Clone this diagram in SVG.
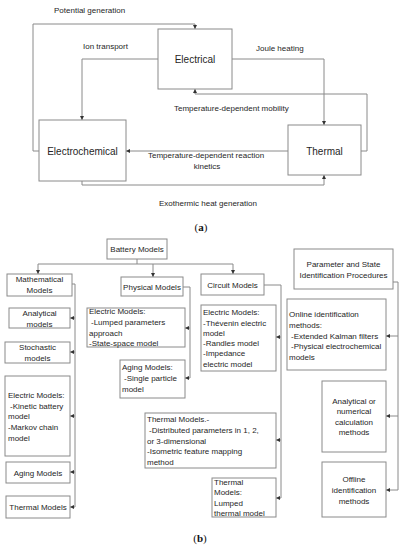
<svg xmlns="http://www.w3.org/2000/svg" width="403" height="550" viewBox="0 0 403 550">
<defs>
<style>
.box{fill:#fff;stroke:#8a8a8a;stroke-width:1}
.ln{fill:none;stroke:#8a8a8a;stroke-width:1}
text{font-family:"Liberation Sans",Arial,sans-serif;fill:#262626}
.big{font-size:10px;text-anchor:middle}
.lb{font-size:8px}
.s{font-size:8px}
.c{text-anchor:middle}
.cap{font-family:"Liberation Serif","Times New Roman",serif;font-size:11px;text-anchor:middle;fill:#111}
</style>
<marker id="ar" viewBox="0 0 6 6" refX="6" refY="3" markerWidth="4" markerHeight="4" orient="auto" markerUnits="userSpaceOnUse">
<path d="M0,0 L6,3 L0,6 z" fill="#333"/>
</marker>
</defs>
<rect width="403" height="550" fill="#fff"/>

<g id="connectors">
<path class="ln" d="M39,151 H33 V24 H195 V29" marker-end="url(#ar)"/>
<path class="ln" d="M158,59 H82 V120" marker-end="url(#ar)"/>
<path class="ln" d="M232,59 H324 V125" marker-end="url(#ar)"/>
<path class="ln" d="M361,151 H367 V94 H195 V89" marker-end="url(#ar)"/>
<path class="ln" d="M288,151 H126" marker-end="url(#ar)"/>
<path class="ln" d="M82,181 V185 H324 V175" marker-end="url(#ar)"/>

<path class="ln" d="M137,259 V264 M38,264 H233"/>
<path class="ln" d="M38,264 V274" marker-end="url(#ar)"/>
<path class="ln" d="M153,264 V277" marker-end="url(#ar)"/>
<path class="ln" d="M233,264 V274" marker-end="url(#ar)"/>

<path class="ln" d="M72,284 H75 V507"/>
<path class="ln" d="M75,318 H70" marker-end="url(#ar)"/>
<path class="ln" d="M75,352 H70" marker-end="url(#ar)"/>
<path class="ln" d="M75,416 H70" marker-end="url(#ar)"/>
<path class="ln" d="M75,472 H70" marker-end="url(#ar)"/>
<path class="ln" d="M75,507 H70" marker-end="url(#ar)"/>

<path class="ln" d="M183,287 H190 V378"/>
<path class="ln" d="M190,328 H185" marker-end="url(#ar)"/>
<path class="ln" d="M190,378 H185" marker-end="url(#ar)"/>

<path class="ln" d="M264,285 H281 V498"/>
<path class="ln" d="M281,337 H276" marker-end="url(#ar)"/>
<path class="ln" d="M281,440 H276" marker-end="url(#ar)"/>
<path class="ln" d="M281,498 H276" marker-end="url(#ar)"/>

<path class="ln" d="M393,282 H398 V490"/>
<path class="ln" d="M398,336 H386" marker-end="url(#ar)"/>
<path class="ln" d="M398,416 H386" marker-end="url(#ar)"/>
<path class="ln" d="M398,490 H386" marker-end="url(#ar)"/>
</g>

<g id="edge-labels">
<text class="lb" x="54" y="13">Potential generation</text>
<text class="lb" x="83" y="49">Ion transport</text>
<text class="lb" x="256" y="51">Joule heating</text>
<text class="lb" x="174" y="111">Temperature-dependent mobility</text>
<text class="lb" x="148" y="158">Temperature-dependent  reaction</text>
<text class="lb c" x="207" y="169">kinetics</text>
<text class="lb" x="159" y="206">Exothermic heat generation</text>
</g>

<g id="electrical"><rect class="box" x="158" y="29" width="74" height="60"/><text class="big" x="195" y="63">Electrical</text></g>
<g id="electrochemical"><rect class="box" x="39" y="120" width="87" height="61"/><text class="big" x="82.5" y="155">Electrochemical</text></g>
<g id="thermal"><rect class="box" x="288" y="125" width="73" height="50"/><text class="big" x="324.5" y="155">Thermal</text></g>

<text class="cap" x="201" y="231">(<tspan font-weight="bold">a</tspan>)</text>

<g id="battery-models"><rect class="box" x="107" y="239" width="60" height="20"/><text class="s c" x="137" y="252">Battery Models</text></g>
<g id="mathematical-models"><rect class="box" x="7" y="274" width="65" height="22"/><text class="s c" x="39.5" y="282">Mathematical</text><text class="s c" x="39.5" y="293">Models</text></g>
<g id="physical-models"><rect class="box" x="121" y="277" width="62" height="19"/><text class="s c" x="152" y="289.5">Physical Models</text></g>
<g id="circuit-models"><rect class="box" x="201" y="274" width="63" height="21"/><text class="s c" x="232.5" y="288">Circuit Models</text></g>

<g id="analytical-models"><rect class="box" x="9" y="308" width="61" height="20"/><text class="s c" x="39.5" y="316">Analytical</text><text class="s c" x="39.5" y="327">models</text></g>
<g id="stochastic-models"><rect class="box" x="5" y="342" width="65" height="21"/><text class="s c" x="37.5" y="350">Stochastic</text><text class="s c" x="37.5" y="361">models</text></g>
<g id="math-electric-models"><rect class="box" x="5" y="376" width="65" height="80"/>
<text class="s" x="8" y="398">Electric Models:</text><text class="s" x="10" y="409">-Kinetic battery</text><text class="s" x="8" y="419">model</text><text class="s" x="8" y="430">-Markov chain</text><text class="s" x="8" y="441">model</text></g>
<g id="math-aging-models"><rect class="box" x="6" y="462" width="64" height="21"/><text class="s c" x="38" y="476">Aging Models</text></g>
<g id="math-thermal-models"><rect class="box" x="6" y="496" width="64" height="22"/><text class="s c" x="38" y="510">Thermal Models</text></g>

<g id="phys-electric-models"><rect class="box" x="87" y="308" width="98" height="39"/>
<text class="s" x="89" y="314">Electric Models:</text><text class="s" x="91" y="325">-Lumped parameters</text><text class="s" x="89" y="336">approach</text><text class="s" x="89" y="346">-State-space model</text></g>
<g id="phys-aging-models"><rect class="box" x="120" y="360" width="65" height="38"/>
<text class="s" x="122" y="370">Aging Models:</text><text class="s" x="124" y="381">-Single particle</text><text class="s" x="122" y="392">model</text></g>

<g id="circuit-electric-models"><rect class="box" x="201" y="305" width="75" height="66"/>
<text class="s" x="203" y="315">Electric Models:</text><text class="s" x="203" y="326">-Thévenin electric</text><text class="s" x="203" y="336">model</text><text class="s" x="203" y="346">-Randles model</text><text class="s" x="203" y="356">-Impedance</text><text class="s" x="203" y="367">electric model</text></g>
<g id="circuit-thermal-models"><rect class="box" x="145" y="413" width="131" height="55"/>
<text class="s" x="147" y="422">Thermal Models.-</text><text class="s" x="149" y="433">-Distributed parameters in 1, 2,</text><text class="s" x="147" y="444">or 3-dimensional</text><text class="s" x="147" y="454">-Isometric feature mapping</text><text class="s" x="147" y="465">method</text></g>
<g id="circuit-lumped-thermal"><rect class="box" x="212" y="478" width="64" height="39"/>
<text class="s" x="214" y="485">Thermal</text><text class="s" x="214" y="495">Models:</text><text class="s" x="214" y="506">Lumped</text><text class="s" x="214" y="516">thermal model</text></g>

<g id="parameter-state"><rect class="box" x="294" y="249" width="99" height="40"/><text class="s c" x="343.5" y="267">Parameter and State</text><text class="s c" x="343.5" y="278">Identification Procedures</text></g>
<g id="online-identification"><rect class="box" x="287" y="299" width="99" height="71"/>
<text class="s" x="289" y="317">Online identification</text><text class="s" x="289" y="328">methods:</text><text class="s" x="291" y="339">-Extended Kalman filters</text><text class="s" x="291" y="349">-Physical electrochemical</text><text class="s" x="289" y="360">models</text></g>
<g id="analytical-numerical"><rect class="box" x="322" y="381" width="64" height="71"/>
<text class="s c" x="354" y="404">Analytical or</text><text class="s c" x="354" y="414">numerical</text><text class="s c" x="354" y="425">calculation</text><text class="s c" x="354" y="435">methods</text></g>
<g id="offline-identification"><rect class="box" x="322" y="462" width="64" height="55"/>
<text class="s c" x="354" y="482">Offline</text><text class="s c" x="354" y="493">identification</text><text class="s c" x="354" y="504">methods</text></g>

<text class="cap" x="200" y="542">(<tspan font-weight="bold">b</tspan>)</text>
</svg>
